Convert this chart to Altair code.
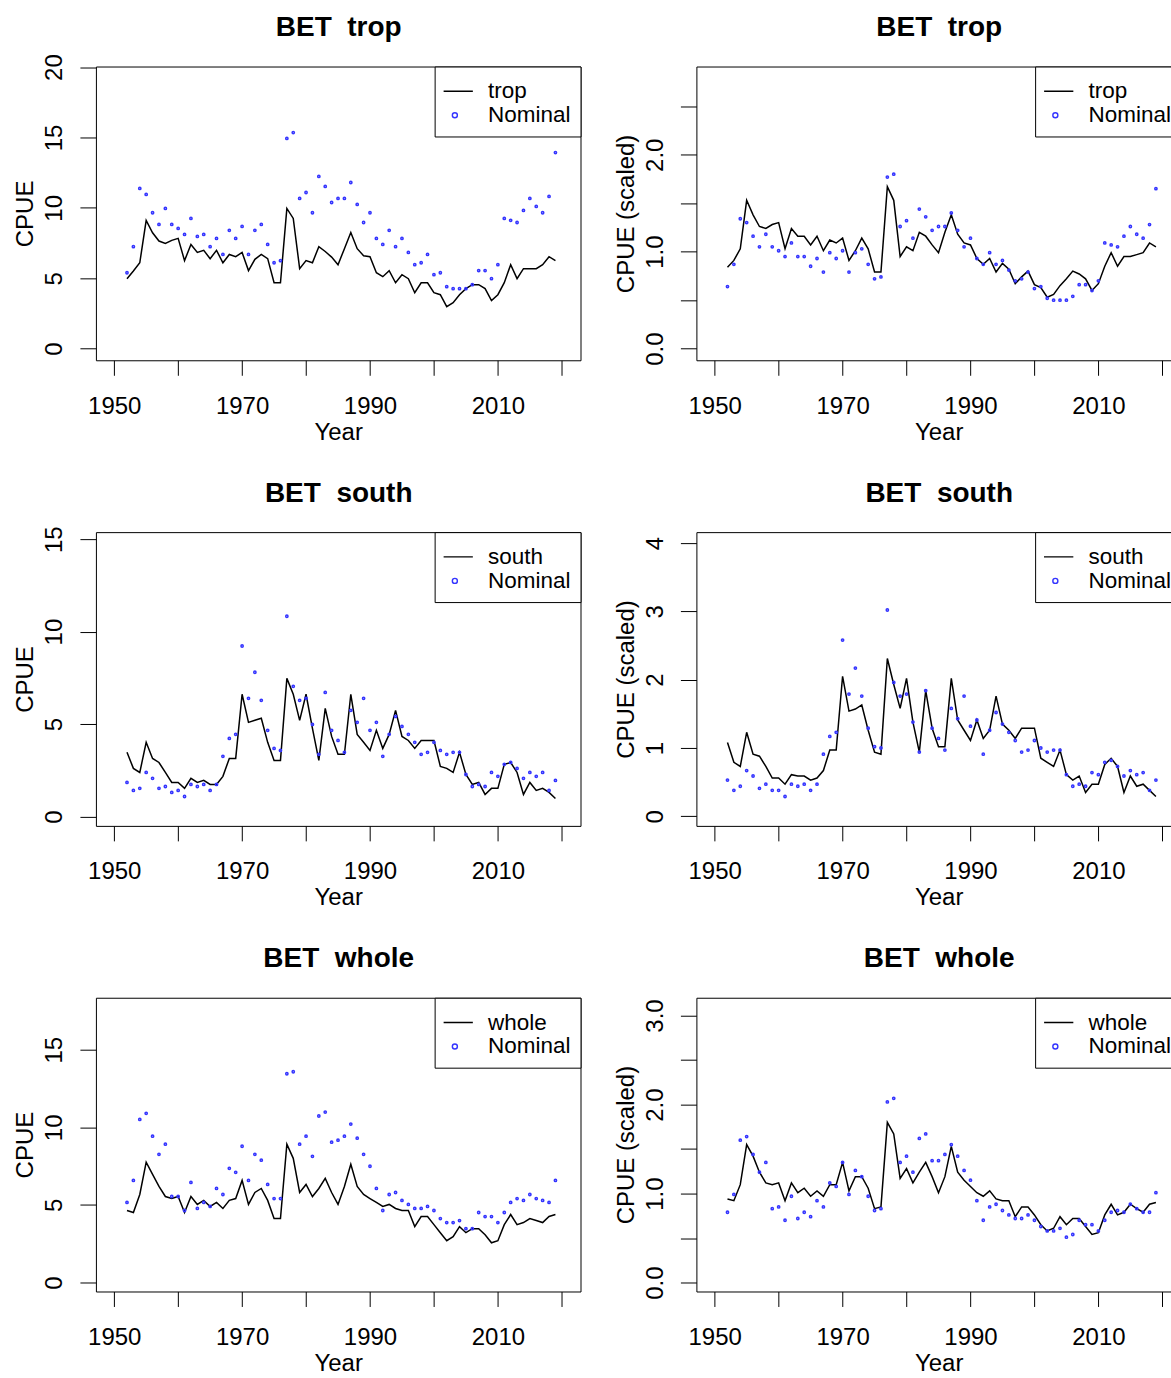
import altair as alt
import pandas as pd

FONT = "Liberation Sans"
BLUE = "#3434ff"

YEARS = list(range(1952, 2020))

# ---- BET trop ----
trop_std = [4.97, 5.51, 6.10, 9.11, 8.23, 7.64, 7.47, 7.69,
            7.83, 6.25, 7.40, 6.83, 6.98, 6.39, 6.98, 6.10, 6.69, 6.53,
            6.83, 5.54, 6.34, 6.69, 6.39, 4.68, 4.68, 9.96, 9.25, 5.68,
            6.25, 6.10, 7.24, 6.90, 6.50, 5.96, 7.10, 8.25, 7.10, 6.60,
            6.53, 5.39, 5.11, 5.54, 4.68, 5.25, 4.97, 3.97, 4.68, 4.68,
            3.97, 3.83, 2.98, 3.26, 3.83, 4.26, 4.54, 4.54, 4.26, 3.41,
            3.83, 4.68, 5.96, 4.97, 5.68, 5.68, 5.68, 5.96, 6.53, 6.25]
trop_nom = [5.39, 7.24, 11.38, 10.95, 9.65, 8.82, 9.96, 8.82,
            8.54, 8.11, 9.25, 7.97, 8.11, 7.24, 7.83, 6.69, 8.40, 7.83,
            8.68, 6.69, 8.40, 8.82, 7.40, 6.10, 6.25, 14.93, 15.35, 10.67,
            11.09, 9.65, 12.23, 11.52, 10.38, 10.67, 10.67, 11.80, 10.24, 8.96,
            9.65, 7.83, 7.40, 8.40, 7.24, 7.83, 6.83, 5.96, 6.10, 6.69,
            5.25, 5.39, 4.40, 4.26, 4.26, 4.26, 4.54, 5.54, 5.54, 4.97,
            5.96, 9.25, 9.11, 8.96, 9.82, 10.67, 10.10, 9.65, 10.81, 13.93]
trop_std_sc = [0.84, 0.91, 1.03, 1.53, 1.38, 1.26, 1.24, 1.28,
               1.30, 1.03, 1.24, 1.16, 1.16, 1.07, 1.16, 1.01, 1.12, 1.09,
               1.14, 0.91, 1.01, 1.14, 1.03, 0.79, 0.79, 1.67, 1.53, 0.95,
               1.05, 1.01, 1.20, 1.16, 1.07, 0.99, 1.20, 1.38, 1.18, 1.09,
               1.07, 0.93, 0.87, 0.93, 0.79, 0.88, 0.82, 0.67, 0.74, 0.80,
               0.66, 0.63, 0.53, 0.56, 0.65, 0.72, 0.80, 0.77, 0.72, 0.60,
               0.67, 0.85, 0.99, 0.85, 0.95, 0.95, 0.97, 0.99, 1.09, 1.05]
trop_nom_sc = [0.64, 0.87, 1.34, 1.30, 1.16, 1.05, 1.18, 1.05,
               1.01, 0.95, 1.09, 0.95, 0.95, 0.85, 0.93, 0.79, 0.99, 0.93,
               1.01, 0.79, 0.99, 1.03, 0.87, 0.72, 0.74, 1.77, 1.80, 1.26,
               1.32, 1.14, 1.44, 1.36, 1.22, 1.26, 1.26, 1.40, 1.22, 1.05,
               1.14, 0.93, 0.87, 0.99, 0.87, 0.91, 0.81, 0.70, 0.72, 0.79,
               0.62, 0.64, 0.52, 0.50, 0.50, 0.50, 0.54, 0.66, 0.66, 0.60,
               0.70, 1.09, 1.07, 1.05, 1.16, 1.26, 1.18, 1.14, 1.28, 1.65]

# ---- BET south ----
south_std = [3.47, 2.60, 2.38, 4.01, 3.14, 2.92, 2.38, 1.84,
             1.84, 1.52, 2.06, 1.84, 1.95, 1.73, 1.73, 2.17, 3.14, 3.14,
             6.61, 5.09, 5.20, 5.31, 4.01, 3.03, 3.03, 7.47, 6.61, 5.20,
             6.61, 4.76, 3.03, 5.85, 4.33, 3.36, 3.36, 6.61, 4.44, 4.01,
             3.57, 4.66, 3.68, 4.44, 5.74, 4.33, 4.11, 3.68, 4.11, 4.11,
             4.11, 2.71, 2.60, 2.38, 3.47, 2.27, 1.73, 1.84, 1.19, 1.52,
             1.52, 2.82, 2.92, 2.38, 1.19, 1.84, 1.41, 1.52, 1.30, 0.97]
south_nom = [1.84, 1.41, 1.52, 2.38, 2.06, 1.52, 1.62, 1.30,
             1.41, 1.08, 1.73, 1.62, 1.73, 1.41, 1.73, 3.25, 4.22, 4.44,
             9.22, 6.39, 7.80, 6.28, 4.66, 3.68, 3.57, 10.83, 7.04, 6.28,
             6.39, 4.98, 3.36, 6.71, 4.66, 4.11, 3.47, 5.74, 5.09, 6.39,
             4.66, 5.09, 3.25, 4.44, 5.41, 4.87, 4.44, 4.01, 3.36, 3.47,
             4.01, 3.57, 3.36, 3.47, 3.47, 2.27, 1.62, 1.73, 1.62, 2.38,
             2.17, 2.82, 2.92, 2.60, 2.06, 2.38, 2.17, 2.38, 1.41, 1.95]
south_std_sc = [1.08, 0.79, 0.73, 1.23, 0.91, 0.88, 0.73, 0.56,
                0.56, 0.47, 0.61, 0.59, 0.59, 0.53, 0.56, 0.67, 0.97, 0.97,
                2.05, 1.54, 1.57, 1.63, 1.26, 0.94, 0.91, 2.31, 1.93, 1.58,
                2.02, 1.38, 0.94, 1.84, 1.29, 1.02, 1.02, 2.02, 1.41, 1.26,
                1.11, 1.41, 1.14, 1.26, 1.76, 1.35, 1.26, 1.14, 1.29, 1.29,
                1.29, 0.85, 0.79, 0.73, 0.97, 0.61, 0.53, 0.59, 0.35, 0.47,
                0.47, 0.76, 0.85, 0.73, 0.35, 0.59, 0.44, 0.47, 0.38, 0.29]
south_nom_sc = [0.53, 0.38, 0.44, 0.67, 0.59, 0.41, 0.47, 0.38,
                0.38, 0.29, 0.47, 0.44, 0.47, 0.38, 0.47, 0.91, 1.17, 1.23,
                2.58, 1.79, 2.17, 1.76, 1.29, 1.02, 1.00, 3.02, 1.96, 1.76,
                1.79, 1.38, 0.94, 1.84, 1.29, 1.14, 0.97, 1.58, 1.43, 1.76,
                1.32, 1.41, 0.91, 1.26, 1.52, 1.35, 1.23, 1.11, 0.94, 0.97,
                1.11, 1.00, 0.94, 0.97, 0.97, 0.61, 0.44, 0.47, 0.44, 0.64,
                0.61, 0.79, 0.82, 0.73, 0.59, 0.67, 0.61, 0.64, 0.38, 0.53]

# ---- BET whole ----
whole_std = [4.64, 4.51, 5.67, 7.75, 6.97, 6.19, 5.54, 5.41,
             5.54, 4.51, 5.54, 5.03, 5.29, 4.90, 5.16, 4.77, 5.29, 5.41,
             6.58, 5.03, 5.80, 6.06, 5.29, 4.12, 4.12, 8.91, 8.00, 5.80,
             6.32, 5.54, 6.06, 6.71, 5.80, 5.03, 6.19, 7.62, 6.19, 5.67,
             5.41, 5.16, 4.90, 5.03, 4.77, 4.64, 4.64, 3.60, 4.25, 4.25,
             3.73, 3.21, 2.69, 2.95, 3.60, 3.21, 3.47, 3.47, 3.08, 2.56,
             2.69, 3.73, 4.38, 3.73, 3.86, 4.12, 3.99, 3.86, 4.25, 4.38]
whole_nom = [5.16, 6.58, 10.51, 10.90, 9.43, 8.26, 8.91, 5.54,
             5.54, 4.64, 6.45, 4.77, 5.16, 4.90, 6.06, 5.67, 7.36, 7.10,
             8.78, 6.58, 8.26, 7.88, 6.32, 5.41, 5.41, 13.45, 13.58, 8.91,
             9.43, 8.13, 10.73, 10.98, 9.04, 9.17, 9.43, 10.21, 9.30, 8.26,
             7.49, 6.06, 4.64, 5.67, 5.80, 5.29, 5.03, 4.77, 4.77, 4.90,
             4.64, 4.12, 3.86, 3.86, 3.99, 3.47, 3.47, 4.51, 4.25, 4.25,
             3.86, 4.51, 5.16, 5.41, 5.29, 5.67, 5.41, 5.29, 5.16, 6.58]
whole_std_sc = [0.94, 0.92, 1.10, 1.55, 1.42, 1.24, 1.12, 1.10,
                1.12, 0.92, 1.12, 1.01, 1.06, 0.97, 1.03, 0.97, 1.10, 1.10,
                1.35, 1.03, 1.19, 1.19, 1.06, 0.83, 0.85, 1.80, 1.67, 1.17,
                1.28, 1.12, 1.24, 1.35, 1.19, 1.01, 1.19, 1.53, 1.24, 1.15,
                1.08, 1.01, 0.97, 1.03, 0.94, 0.92, 0.92, 0.74, 0.85, 0.85,
                0.76, 0.65, 0.58, 0.61, 0.74, 0.65, 0.72, 0.72, 0.63, 0.54,
                0.56, 0.76, 0.88, 0.76, 0.79, 0.88, 0.83, 0.79, 0.88, 0.90]
whole_nom_sc = [0.79, 0.99, 1.60, 1.64, 1.44, 1.24, 1.35, 0.83,
                0.85, 0.70, 0.97, 0.72, 0.79, 0.74, 0.92, 0.85, 1.12, 1.08,
                1.35, 0.99, 1.26, 1.19, 0.97, 0.81, 0.83, 2.03, 2.07, 1.35,
                1.42, 1.24, 1.62, 1.67, 1.37, 1.37, 1.44, 1.55, 1.42, 1.26,
                1.15, 0.92, 0.70, 0.85, 0.88, 0.81, 0.76, 0.72, 0.72, 0.76,
                0.70, 0.63, 0.58, 0.58, 0.61, 0.51, 0.54, 0.70, 0.65, 0.65,
                0.58, 0.70, 0.79, 0.81, 0.79, 0.88, 0.83, 0.79, 0.79, 1.01]

XDOM = [1947.14, 2022.92]
XTICKS = [1950, 1960, 1970, 1980, 1990, 2000, 2010, 2020]

LINE_PATH = "M-3,0H3"
CIRCLE_PATH = "M0.42,0A0.42,0.42,0,1,1,-0.42,0A0.42,0.42,0,1,1,0.42,0Z"

W, H = 485, 294


def make_legend():
    return alt.Legend(
        title="\u00a0", titleFontSize=3.8, titlePadding=0,
        orient="top-right", offset=0, padding=9,
        strokeColor="black", fillColor="white", cornerRadius=0,
        symbolSize=144, symbolStrokeWidth=1.4, symbolOffset=0,
        symbolFillColor="transparent",
        labelOffset=22, labelFontSize=22.5, labelFont=FONT, labelColor="black",
        clipHeight=24, rowPadding=0, labelLimit=300,
    )


def make_panel(name, title, ylab, line_vals, nom_vals, ydom, yticks, scaled):
    df = pd.DataFrame({
        "Year": YEARS + YEARS,
        "value": list(line_vals) + list(nom_vals),
        "series": [name] * len(YEARS) + ["Nominal"] * len(YEARS),
    })
    color = alt.Color("series:N",
                      scale=alt.Scale(domain=[name, "Nominal"], range=["black", BLUE]),
                      legend=make_legend())
    shape = alt.Shape("series:N",
                      scale=alt.Scale(domain=[name, "Nominal"], range=[LINE_PATH, CIRCLE_PATH]),
                      legend=make_legend())
    if scaled:
        yexpr = "datum.value % 1 == 0 ? format(datum.value, '.1f') : ''"
    else:
        yexpr = "format(datum.value, 'd')"
    xscale = alt.Scale(domain=XDOM, nice=False, zero=False)
    x_bottom = alt.X("Year:Q", scale=xscale,
                     axis=alt.Axis(orient="bottom", values=XTICKS, title="Year",
                                   labelExpr="datum.value % 20 == 10 ? format(datum.value, 'd') : ''",
                                   tickSize=15, labelPadding=38, labelBaseline="alphabetic",
                                   labelAlign="center",
                                   titleX=W / 2, titleY=79, titleBaseline="alphabetic",
                                   titleAlign="center"))
    # top axis only carries the panel title
    x_top = alt.X("Year:Q", scale=xscale,
                  axis=alt.Axis(orient="top", title=title, labels=False, ticks=False,
                                domain=False, titleFontSize=28, titleFontWeight="bold",
                                titleX=W / 2, titleY=-31, titleBaseline="alphabetic",
                                titleAlign="center"))
    y = alt.Y("value:Q",
              scale=alt.Scale(domain=ydom, nice=False, zero=False),
              axis=alt.Axis(values=yticks, title=ylab, labelExpr=yexpr,
                            tickSize=16, labelPadding=18, labelAngle=270,
                            labelAlign="center", labelBaseline="alphabetic",
                            titleAngle=270, titleX=-63, titleY=H / 2,
                            titleBaseline="alphabetic", titleAlign="center"))
    base = alt.Chart(df)
    line = base.transform_filter(alt.datum.series == name).mark_line(
        strokeWidth=1.5).encode(x=x_bottom, y=y, color=color)
    pts = base.transform_filter(alt.datum.series == "Nominal").mark_point(
        filled=False, size=30, strokeWidth=1.5, opacity=1).encode(
        x=x_top, y=y, color=color, shape=shape)
    return alt.layer(line, pts).resolve_axis(x="independent").properties(
        width=W, height=H)


p1 = make_panel("trop", "BET\u00a0 trop", "CPUE", trop_std, trop_nom,
                [-0.83, 20.04], [0, 5, 10, 15, 20], False)
p2 = make_panel("trop", "BET\u00a0 trop", "CPUE (scaled)", trop_std_sc, trop_nom_sc,
                [-0.12, 2.91], [0, 0.5, 1, 1.5, 2, 2.5], True)
p3 = make_panel("south", "BET\u00a0 south", "CPUE", south_std, south_nom,
                [-0.51, 15.38], [0, 5, 10, 15], False)
p4 = make_panel("south", "BET\u00a0 south", "CPUE (scaled)", south_std_sc, south_nom_sc,
                [-0.14, 4.16], [0, 1, 2, 3, 4], False)
p5 = make_panel("whole", "BET\u00a0 whole", "CPUE", whole_std, whole_nom,
                [-0.58, 18.35], [0, 5, 10, 15], False)
p6 = make_panel("whole", "BET\u00a0 whole", "CPUE (scaled)", whole_std_sc, whole_nom_sc,
                [-0.10, 3.20], [0, 0.5, 1, 1.5, 2, 2.5, 3], True)

chart = alt.concat(
    p1, p2, p3, p4, p5, p6,
    columns=2, spacing={"row": 172, "column": 116}, bounds="flush",
    padding={"left": 13, "top": 12, "right": -11, "bottom": 0},
).resolve_scale(
    x="independent", y="independent", color="independent", shape="independent"
).resolve_legend(color="independent", shape="independent").configure(
    background="white"
).configure_view(
    stroke="black", strokeWidth=1
).configure_axis(
    grid=False, domain=False, tickColor="black", tickWidth=1,
    labelColor="black", titleColor="black", labelFont=FONT, titleFont=FONT,
    labelFontSize=24, titleFontSize=24, titleFontWeight="normal",
    labelFlush=False, labelOverlap=False, labelBound=False,
)

chart.save("out.html", embed_options={"renderer": "svg", "actions": False})
